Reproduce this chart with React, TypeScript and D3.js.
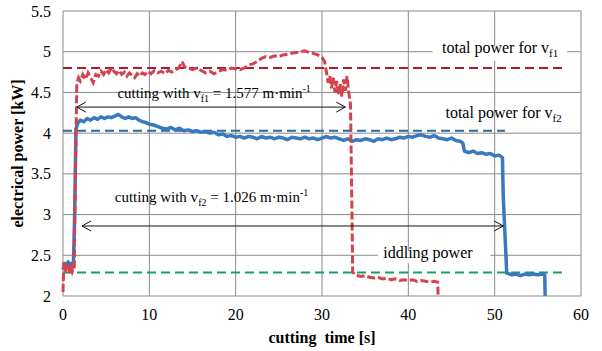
import React from "react";
import * as d3 from "d3";

// cutting time [s] vs electrical power [kW]
const xTicks = [0, 10, 20, 30, 40, 50, 60];
const yTicks = [2, 2.5, 3, 3.5, 4, 4.5, 5, 5.5];

// v_f1 = 1.577 m/min (red, dashed)
const powerVf1: [number, number][] = [
  [0, 2.05], [0.1, 2.42], [0.3, 2.3], [0.5, 2.38], [0.7, 2.28], [0.9, 2.4], [1.1, 2.3], [1.3, 2.35],
  [1.45, 3.6], [1.6, 4.6], [1.8, 4.68], [2.0, 4.64], [2.3, 4.72], [2.6, 4.66], [2.9, 4.74], [3.2, 4.68],
  [3.5, 4.62], [3.8, 4.72], [4.1, 4.7], [4.4, 4.76], [4.7, 4.72], [5.0, 4.78], [5.3, 4.74], [5.6, 4.8],
  [5.9, 4.76], [6.2, 4.73], [6.5, 4.77], [6.8, 4.72], [7.1, 4.75], [7.4, 4.7], [7.7, 4.74], [8.0, 4.71],
  [8.3, 4.68], [8.6, 4.73], [8.9, 4.7], [9.2, 4.74], [9.5, 4.72], [9.8, 4.76], [10.2, 4.73], [10.6, 4.77],
  [11.0, 4.74], [11.4, 4.76], [11.8, 4.73], [12.2, 4.77], [12.6, 4.75], [13.0, 4.78], [13.4, 4.8],
  [13.8, 4.88], [14.1, 4.81], [14.5, 4.8], [15.0, 4.78], [15.5, 4.8], [16.0, 4.77], [16.5, 4.74],
  [17.0, 4.76], [17.5, 4.73], [18.0, 4.76], [18.5, 4.78], [19.0, 4.77], [19.5, 4.8], [20.0, 4.79],
  [20.5, 4.78], [21.0, 4.8], [21.5, 4.84], [22.0, 4.85], [22.5, 4.88], [23.0, 4.92], [23.5, 4.94],
  [24.0, 4.93], [24.5, 4.95], [25.0, 4.94], [25.5, 4.96], [26.0, 4.97], [26.5, 4.98], [27.0, 4.99],
  [27.5, 5.0], [28.0, 5.01], [28.5, 4.99], [29.0, 4.98], [29.5, 4.96], [30.0, 4.93], [30.3, 4.88],
  [30.5, 4.76], [30.7, 4.62], [30.9, 4.7], [31.1, 4.55], [31.3, 4.68], [31.5, 4.5], [31.7, 4.64],
  [31.9, 4.48], [32.1, 4.6], [32.3, 4.45], [32.5, 4.66], [32.7, 4.52], [32.9, 4.7], [33.1, 4.5],
  [33.3, 4.35], [33.45, 3.2], [33.55, 2.3], [33.8, 2.26], [34.5, 2.24], [35, 2.25], [35.5, 2.23],
  [36, 2.22], [36.5, 2.23], [37, 2.21], [37.5, 2.22], [38, 2.2], [38.5, 2.21], [39, 2.19], [39.5, 2.2],
  [40, 2.19], [40.5, 2.2], [41, 2.18], [41.5, 2.19], [42, 2.18], [42.5, 2.17], [43, 2.18], [43.4, 2.17],
  [43.45, 2.0],
];

// v_f2 = 1.026 m/min (blue, solid)
const powerVf2: [number, number][] = [
  [0, 2.33], [0.2, 2.4], [0.4, 2.36], [0.6, 2.42], [0.8, 2.37], [1.0, 2.4], [1.2, 2.36], [1.35, 3.0],
  [1.5, 4.05], [1.7, 4.12], [2.0, 4.16], [2.4, 4.14], [2.8, 4.18], [3.2, 4.16], [3.6, 4.19], [4.0, 4.17],
  [4.4, 4.2], [4.8, 4.18], [5.2, 4.2], [5.6, 4.19], [6.0, 4.21], [6.4, 4.23], [6.8, 4.2], [7.2, 4.18],
  [7.6, 4.2], [8.0, 4.18], [8.4, 4.19], [8.8, 4.16], [9.2, 4.14], [9.6, 4.13], [10, 4.11], [10.5, 4.1],
  [11, 4.08], [11.5, 4.06], [12, 4.05], [12.5, 4.07], [13, 4.04], [13.5, 4.06], [14, 4.03], [14.5, 4.04],
  [15, 4.02], [15.5, 4.03], [16, 4.01], [16.5, 4.02], [17, 4.0], [17.5, 4.01], [18, 3.98], [18.5, 3.99],
  [19, 3.96], [19.5, 3.97], [20, 3.95], [20.5, 3.96], [21, 3.94], [21.5, 3.96], [22, 3.95], [22.5, 3.93],
  [23, 3.96], [23.5, 3.94], [24, 3.95], [24.5, 3.93], [25, 3.95], [25.5, 3.94], [26, 3.92], [26.5, 3.95],
  [27, 3.94], [27.5, 3.93], [28, 3.95], [28.5, 3.93], [29, 3.94], [29.5, 3.92], [30, 3.94], [30.5, 3.96],
  [31, 3.94], [31.5, 3.95], [32, 3.93], [32.5, 3.91], [33, 3.93], [33.5, 3.9], [34, 3.92], [34.5, 3.91],
  [35, 3.93], [35.5, 3.92], [36, 3.9], [36.5, 3.93], [37, 3.92], [37.5, 3.94], [38, 3.92], [38.5, 3.93],
  [39, 3.95], [39.5, 3.94], [40, 3.96], [40.5, 3.95], [41, 3.97], [41.5, 3.98], [42, 3.96], [42.5, 3.95],
  [43, 3.97], [43.5, 3.94], [44, 3.93], [44.5, 3.92], [45, 3.94], [45.5, 3.91], [46, 3.9], [46.3, 3.88],
  [46.5, 3.78], [47, 3.76], [47.5, 3.78], [48, 3.75], [48.5, 3.76], [49, 3.74], [49.5, 3.75], [50, 3.72],
  [50.5, 3.73], [50.9, 3.7], [51.0, 3.2], [51.4, 2.28], [52, 2.26], [52.5, 2.27], [53, 2.25], [53.5, 2.27],
  [54, 2.26], [54.5, 2.27], [55, 2.26], [55.5, 2.27], [55.8, 2.26], [55.85, 2.0],
];

// horizontal reference levels: total vf1, total vf2, idling
const refLevels = [4.8, 4.03, 2.29];
const refEnds = [57.8, 51.2, 57.8];

// cutting-time spans marked by arrows [start, end, level]
const spanVf1 = [1.6, 32.7, 4.32];
const spanVf2 = [2.2, 51.0, 2.86];

const W = 602, H = 351;
const m = { left: 63, right: 21, top: 11, bottom: 55 };
const serif = { fontFamily: "'Liberation Serif'" };
const refColors = ["#b01a30", "#2a6c9c", "#19a05e"];

export default function App() {
  const x = d3.scaleLinear().domain([0, 60]).range([m.left, W - m.right]);
  const y = d3.scaleLinear().domain([2, 5.5]).range([H - m.bottom, m.top]);
  const line = d3.line<[number, number]>().x(d => x(d[0])).y(d => y(d[1]));

  const arrow = (s: number[]) => {
    const x1 = x(s[0]), x2 = x(s[1]), yy = y(s[2]);
    return `M${x1},${yy}L${x2},${yy}M${x1 + 9},${yy - 5}L${x1},${yy}L${x1 + 9},${yy + 5}` +
      `M${x2 - 9},${yy - 5}L${x2},${yy}L${x2 - 9},${yy + 5}`;
  };

  return (
    <svg width={W} height={H} style={{ position: "absolute", left: 0, top: 0, background: "#fff" }}>
      {/* grid */}
      {yTicks.map(t => (
        <line key={"gy" + t} x1={x(0)} x2={x(60)} y1={y(t)} y2={y(t)} stroke="#8a8a8a" strokeWidth={1} />
      ))}
      {xTicks.map(t => (
        <line key={"gx" + t} x1={x(t)} x2={x(t)} y1={y(2)} y2={y(5.5)} stroke="#8a8a8a" strokeWidth={1} />
      ))}
      {yTicks.map(t => (
        <text key={"ty" + t} x={x(0) - 12} y={y(t)} dy="0.35em" textAnchor="end" fontSize={16} style={serif}>{t}</text>
      ))}
      {xTicks.map(t => (
        <text key={"tx" + t} x={x(t)} y={y(2) + 24} textAnchor="middle" fontSize={16} style={serif}>{t}</text>
      ))}

      {/* label boxes that hide the grid */}
      <rect x={x(42.8)} y={y(5.06)} width={x(58.4) - x(42.8)} height={14} fill="#fff" />
      <rect x={x(36.5)} y={y(2.55)} width={x(49.5) - x(36.5)} height={12} fill="#fff" />

      {/* reference levels */}
      {refLevels.map((v, i) => (
        <line key={"r" + i} x1={x(0)} x2={x(refEnds[i])} y1={y(v)} y2={y(v)}
          stroke={refColors[i]} strokeWidth={2} strokeDasharray="9,5" />
      ))}

      <path d={line(powerVf2) || ""} fill="none" stroke="#3a78c0" strokeWidth={3.5} strokeLinejoin="round" />
      <path d={line(powerVf1) || ""} fill="none" stroke="#d2424f" strokeWidth={3} strokeDasharray="8,3" />

      {/* spans */}
      <path d={arrow(spanVf1)} fill="none" stroke="#111" strokeWidth={1} />
      <path d={arrow(spanVf2)} fill="none" stroke="#111" strokeWidth={1} />

      <text x={x(6.3)} y={y(4.43)} fontSize={15} style={serif}>
        cutting with v<tspan dy={4} fontSize={10}>f1</tspan><tspan dy={-4}> = 1.577 m·min</tspan>
        <tspan dy={-6} fontSize={10}>-1</tspan>
      </text>
      <text x={x(6.0)} y={y(3.15)} fontSize={15} style={serif}>
        cutting with v<tspan dy={4} fontSize={10}>f2</tspan><tspan dy={-4}> = 1.026 m·min</tspan>
        <tspan dy={-6} fontSize={10}>-1</tspan>
      </text>
      <text x={x(43.9)} y={y(4.98)} fontSize={16} style={serif}>
        total power for v<tspan dy={4} fontSize={11}>f1</tspan>
      </text>
      <text x={x(44.3)} y={y(4.19)} fontSize={16} style={serif}>
        total power for v<tspan dy={4} fontSize={11}>f2</tspan>
      </text>
      <text x={x(37.1)} y={y(2.47)} fontSize={16} style={serif}>iddling power</text>

      {/* axis titles */}
      <text x={x(30)} y={H - 8} textAnchor="middle" fontSize={16} fontWeight="bold" style={serif}>
        cutting{"\u00a0\u00a0"}time [s]
      </text>
      <text transform={`translate(17,${(y(2) + y(5.5)) / 2}) rotate(-90)`} textAnchor="middle"
        dy="0.35em" fontSize={16} fontWeight="bold" style={serif}>
        electrical power [kW]
      </text>
    </svg>
  );
}
